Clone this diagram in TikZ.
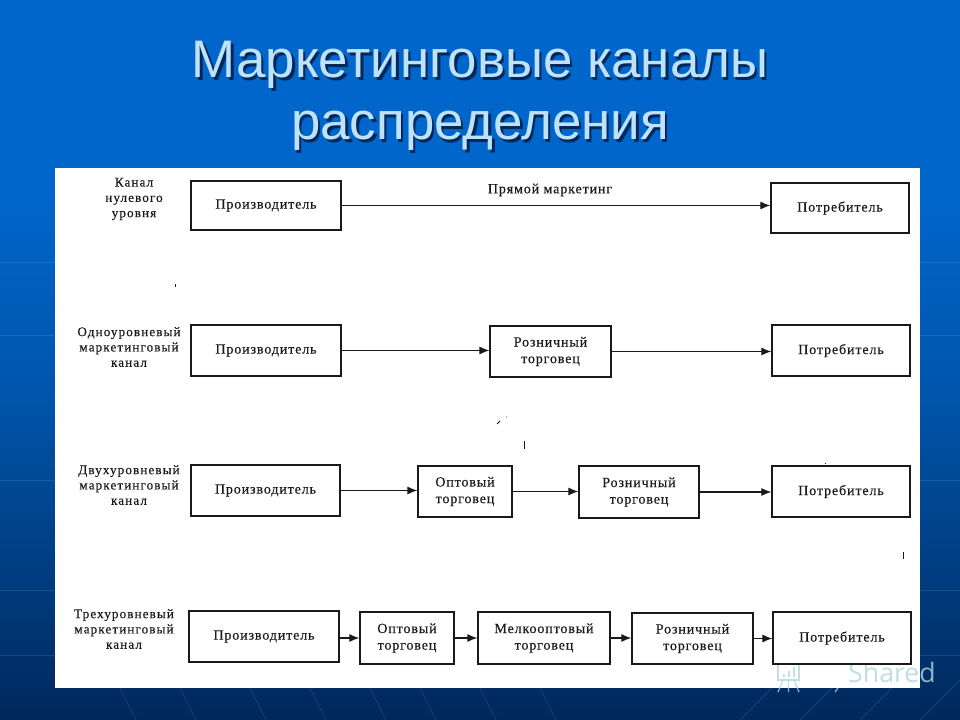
\documentclass[tikz,border=0pt]{standalone}
\usepackage{fontspec}
\setmainfont{Liberation Serif}
\newfontfamily\titlefont{Liberation Sans}
\newfontfamily\markfont{Open Sans}
\definecolor{slidetop}{RGB}{0,102,204}
\definecolor{slidemid}{RGB}{0,84,170}
\definecolor{slidelow}{RGB}{0,40,92}
\definecolor{titleink}{RGB}{190,226,250}
\definecolor{titleshade}{RGB}{0,40,90}
\definecolor{ink}{RGB}{25,25,25}
\definecolor{markcol}{RGB}{175,215,220}
\usetikzlibrary{arrows.meta}
\tikzset{
  cell/.style={draw=ink,line width=0.85pt,fill=white,align=center,inner sep=0pt,text=ink,font=\fontsize{10}{11.8}\selectfont\addfontfeature{LetterSpace=6,FakeBold=0.25}},
  lab/.style={align=center,text=ink,inner sep=0pt,font=\fontsize{9.4}{10.9}\selectfont\addfontfeature{LetterSpace=8,FakeBold=0.2}},
  flow/.style={-{Latex[length=2.5mm,width=2mm]},draw=ink,line width=0.8pt},
  headline/.style={align=center,inner sep=0pt,font=\titlefont\fontsize{37.6}{44}\selectfont},
  glint/.style={white,opacity=0.1,line width=0.6pt},
  speck/.style={ink,line width=0.6pt},
  stamp/.style={markcol,opacity=0.8,line width=0.9pt}
}
\begin{document}
\begin{tikzpicture}[x=0.025cm,y=-0.025cm]
  \useasboundingbox (0,0) rectangle (960,720);
  % backdrop
  \fill[slidetop] (0,0) rectangle (960,190);
  \shade[top color=slidetop,bottom color=slidemid] (0,190) rectangle (960,400);
  \shade[top color=slidemid,bottom color=slidelow] (0,400) rectangle (960,720);
  \foreach \yy in {262,335,480,590,655}
    \draw[glint] (0,\yy) -- (55,\yy) (920,\yy) -- (960,\yy);
  \foreach \xx in {120,180,250,310,370,420,480,540}
    \draw[glint] (\xx,688) -- ({\xx+16},720);
  \foreach \xx in {740,800,860,920}
    \draw[glint] (\xx,720) -- ({\xx+40},680);
  % title
  \node[headline,text=titleshade] at (482.5,98.5) {Маркетинговые каналы\\распределения};
  \node[headline,text=titleink] (title) at (480,96) {Маркетинговые каналы\\распределения};
  % sheet
  \fill[white] (55,168) rectangle (920,688);
  \node[text=markcol,opacity=0.8,inner sep=0pt,font=\markfont\fontsize{19}{22}\selectfont] (mark) at (892,672) {Shared};
  \draw[stamp] (774,660) -- (802,660) (778,660) rectangle (799,680);
  \draw[stamp] (783,680) -- (778,692) (794,680) -- (799,692) (788.5,680) -- (788.5,692);
  \draw[stamp,line width=1.6pt] (784,677) -- (784,674) (789,677) -- (789,671) (794,677) -- (794,667);
  \draw[stamp] (838,688) -- (835,692);
  % zero level
  \node[lab] (levelA) at (134,199) {Канал\\нулевого\\уровня};
  \node[cell,minimum width=3.75cm,minimum height=1.225cm] (prodA) at (266,205.5) {Производитель};
  \node[cell,minimum width=3.45cm,minimum height=1.25cm] (consA) at (840,208) {Потребитель};
  \draw[flow] (prodA.east) -- (prodA.east -| consA.west);
  \node[cell,draw=none,fill=none] (direct) at (550,190) {Прямой маркетинг};
  % one level
  \node[lab] (levelB) at (129,347) {Одноуровневый\\маркетинговый\\канал};
  \node[cell,minimum width=3.75cm,minimum height=1.275cm] (prodB) at (266,350.5) {Производитель};
  \node[cell,minimum width=3.025cm,minimum height=1.275cm] (shopB) at (550.5,351.5) {Розничный\\торговец};
  \node[cell,minimum width=3.45cm,minimum height=1.275cm] (consB) at (841,350.5) {Потребитель};
  \draw[flow] (prodB.east) -- (prodB.east -| shopB.west);
  \draw[flow] (shopB.east) -- (shopB.east -| consB.west);
  % two levels
  \node[lab] (levelC) at (129,485) {Двухуровневый\\маркетинговый\\канал};
  \node[cell,minimum width=3.725cm,minimum height=1.275cm] (prodC) at (265.5,490.5) {Производитель};
  \node[cell,minimum width=2.35cm,minimum height=1.275cm] (bulkC) at (465,491.5) {Оптовый\\торговец};
  \node[cell,minimum width=3cm,minimum height=1.3cm] (shopC) at (639,492) {Розничный\\торговец};
  \node[cell,minimum width=3.45cm,minimum height=1.275cm] (consC) at (841,491.5) {Потребитель};
  \draw[flow] (prodC.east) -- (prodC.east -| bulkC.west);
  \draw[flow] (bulkC.east) -- (bulkC.east -| shopC.west);
  \draw[flow] (shopC.east) -- (shopC.east -| consC.west);
  % three levels
  \node[lab] (levelD) at (124,629) {Трехуровневый\\маркетинговый\\канал};
  \node[cell,minimum width=3.75cm,minimum height=1.275cm] (prodD) at (264,636.5) {Производитель};
  \node[cell,minimum width=2.35cm,minimum height=1.3cm] (bulkD) at (407,638) {Оптовый\\торговец};
  \node[cell,minimum width=3.3cm,minimum height=1.3cm] (smallD) at (544,638) {Мелкооптовый\\торговец};
  \node[cell,minimum width=3.025cm,minimum height=1.275cm] (shopD) at (692.5,638.5) {Розничный\\торговец};
  \node[cell,minimum width=3.45cm,minimum height=1.3cm] (consD) at (842,638) {Потребитель};
  \draw[flow] (bulkD.west -| prodD.east) -- (bulkD.west);
  \draw[flow] (bulkD.east) -- (smallD.west);
  \draw[flow] (smallD.east) -- (smallD.east -| shopD.west);
  \draw[flow] (shopD.east) -- (shopD.east -| consD.west);
  % specks
  \draw[speck] (175,284) -- (175,287);
  \draw[speck] (497,424) -- (500,421) (506,417) -- (507,417);
  \draw[speck] (524,441) -- (524,449);
  \draw[speck] (903,552) -- (903,559);
  \draw[speck] (825,463) -- (826,463);
\end{tikzpicture}
\end{document}
